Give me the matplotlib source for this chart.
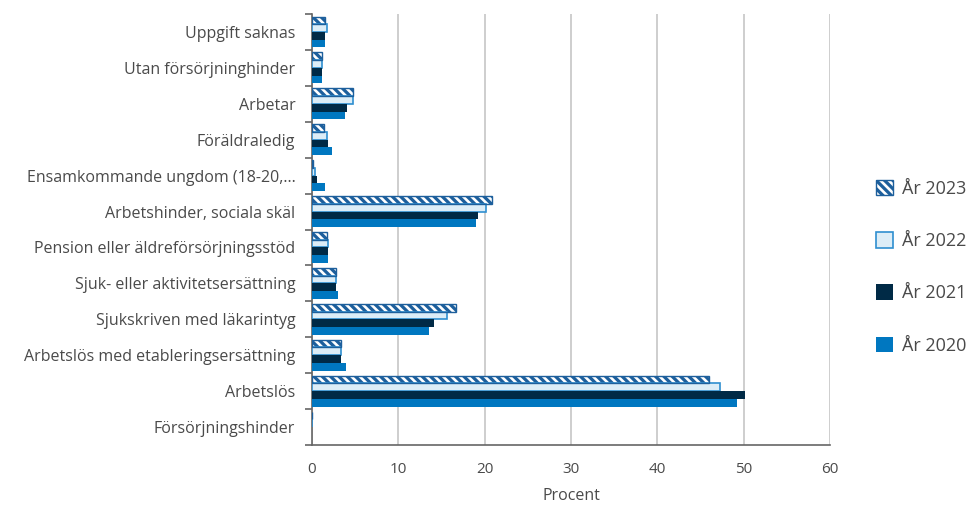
import numpy as np
import matplotlib
matplotlib.use('Agg')
import matplotlib.pyplot as plt
from matplotlib.patches import Patch
from matplotlib.legend_handler import HandlerTuple

plt.rcParams['font.family'] = ['Open Sans', 'DejaVu Sans']
plt.rcParams['hatch.linewidth'] = 1.9

kategorier = ['Uppgift saknas', 'Utan försörjninghinder', 'Arbetar', 'Föräldraledig',
              'Ensamkommande ungdom (18-20,...', 'Arbetshinder, sociala skäl',
              'Pension eller äldreförsörjningsstöd', 'Sjuk- eller aktivitetsersättning',
              'Sjukskriven med läkarintyg', 'Arbetslös med etableringsersättning',
              'Arbetslös', 'Försörjningshinder']

ar_2023 = [1.5, 1.2, 4.7, 1.4, 0.15, 20.9, 1.7, 2.8, 16.7, 3.4, 46.0, 0]
ar_2022 = [1.7, 1.1, 4.7, 1.7, 0.4, 20.1, 1.9, 2.75, 15.6, 3.3, 47.3, 0]
ar_2021 = [1.5, 1.2, 4.0, 1.9, 0.6, 19.2, 1.9, 2.8, 14.1, 3.4, 50.1, 0]
ar_2020 = [1.5, 1.2, 3.8, 2.3, 1.5, 19.0, 1.9, 3.0, 13.6, 3.9, 49.2, 0]

blå_mörk = '#1d5f9c'
blå_ljus = '#dcedf7'
kant_ljus = '#2f8fd0'
marin = '#002a46'
blå = '#0077c0'
textfarg = '#4a4a4a'

fig = plt.figure(figsize=(9.76, 5.08), dpi=100)
ax = fig.add_axes([0.3197, 0.124, 0.8504 - 0.3197, 0.9724 - 0.124])

y = np.arange(len(kategorier))
h = 0.215
offs = [-1.5 * h, -0.5 * h, 0.5 * h, 1.5 * h]

# 2023 - randig: vit streckning över blått, sen blå kant
ax.barh(y + offs[0], ar_2023, height=h, color=blå_mörk, edgecolor='white',
        hatch='\\' * 4, linewidth=0, zorder=3)
ax.barh(y + offs[0], ar_2023, height=h, fill=False, edgecolor=blå_mörk,
        linewidth=1.0, zorder=4)
ax.barh(y + offs[1], ar_2022, height=h, color=blå_ljus, edgecolor=kant_ljus,
        linewidth=1.2, zorder=3)
ax.barh(y + offs[2], ar_2021, height=h, color=marin, linewidth=0, zorder=3)
ax.barh(y + offs[3], ar_2020, height=h, color=blå, linewidth=0, zorder=3)

ax.set_ylim(len(kategorier) - 0.5, -0.5)
ax.set_xlim(0, 60)
ax.set_yticks(y)
ax.set_yticklabels(kategorier)
ax.set_yticks(np.arange(-0.5, len(kategorier)), minor=True)
ax.tick_params(axis='y', which='major', length=0, pad=12, labelsize=11.5, labelcolor=textfarg)
ax.tick_params(axis='y', which='minor', length=5, color='#666666', width=1.2)
ax.set_xticks(np.arange(0, 61, 10))
ax.tick_params(axis='x', length=0, pad=12, labelsize=11, labelcolor=textfarg)
ax.grid(axis='x', color='#c6c6c6', linewidth=1.2, zorder=0)
ax.set_axisbelow(True)

for s in ['top', 'right']:
    ax.spines[s].set_visible(False)
for s in ['left', 'bottom']:
    ax.spines[s].set_color('#666666')
    ax.spines[s].set_linewidth(1.2)

ax.set_xlabel('Procent', fontsize=11.5, color=textfarg, labelpad=8)

h23 = (Patch(facecolor=blå_mörk, edgecolor='white', hatch='\\' * 4, linewidth=0),
       Patch(fill=False, edgecolor=blå_mörk, linewidth=1.0))
h22 = Patch(facecolor=blå_ljus, edgecolor=kant_ljus, linewidth=1.2)
h21 = Patch(facecolor=marin, linewidth=0)
h20 = Patch(facecolor=blå, linewidth=0)

leg = fig.legend([h23, h22, h21, h20], ['År 2023', 'År 2022', 'År 2021', 'År 2020'],
                 handler_map={tuple: HandlerTuple(ndivide=1)},
                 loc='center left', bbox_to_anchor=(0.881, 0.474), frameon=False,
                 fontsize=13, labelspacing=1.9, handlelength=0.95, handleheight=0.95,
                 handletextpad=0.5)
for t in leg.get_texts():
    t.set_color(textfarg)

plt.savefig('out.png', dpi=100)
